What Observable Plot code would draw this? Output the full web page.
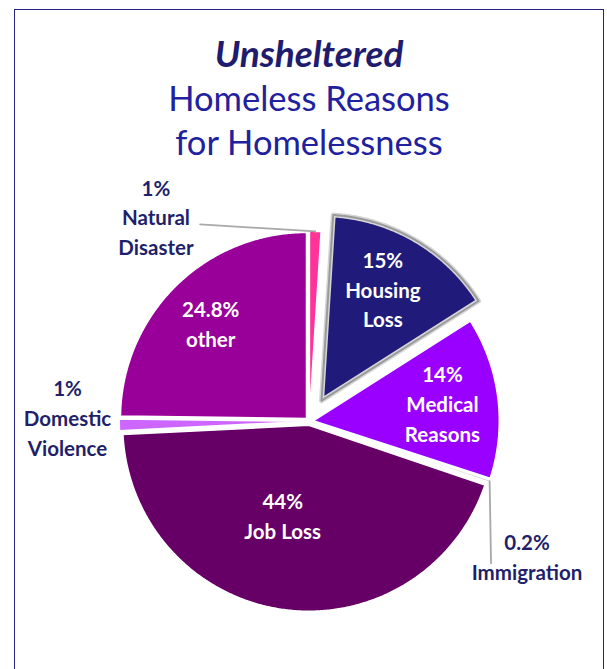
<!DOCTYPE html>
<html><head><meta charset="utf-8">
<script src="https://cdn.jsdelivr.net/npm/d3@7"></script>
<script src="https://cdn.jsdelivr.net/npm/@observablehq/plot@0.6"></script>
<style>
body{margin:0;width:607px;height:669px;overflow:hidden;background:#fff;font-family:Lato,sans-serif;position:relative}
#frame{position:absolute;left:14px;top:9px;width:590px;height:700px;border:1.7px solid #24247E;box-sizing:border-box}
#title{position:relative;height:170px;width:618px}
#title div{position:absolute;left:0;width:618px;text-align:center;white-space:nowrap}
#chart{position:relative}
</style></head><body>
<div id="frame"></div>
<div id="title">
<div style="top:34px;font-size:37px;line-height:37px;font-weight:700;font-style:italic;color:#1F1B6E">Unsheltered</div>
<div style="top:81px;font-size:34.5px;line-height:34.5px;color:#2121A0">Homeless Reasons</div>
<div style="top:125px;font-size:34.5px;line-height:34.5px;color:#2121A0">for Homelessness</div>
</div>
<div id="chart"></div>
<script>
const categories = ["Natural Disaster", "Housing Loss", "Medical Reasons", "Immigration", "Job Loss", "Domestic Violence", "other"];
const values = [1, 15, 14, 0.2, 44, 1, 24.8];
const sliceLabels = ["1%\nNatural\nDisaster", "15%\nHousing\nLoss", "14%\nMedical\nReasons", "0.2%\nImmigration", "44%\nJob Loss", "1%\nDomestic\nViolence", "24.8%\nother"];
const colors = ["#FF3399", "#201B7A", "#9900FF", "#D0D0D0", "#660066", "#CC66FF", "#990099"];

// layout (pixels / polar placement)
const W = 607, H = 499, R = 186, CX = 308.8, CY = 250.8;
const explodePx = {"Housing Loss": 24};
const insideLayout = {
  "Housing Loss": {r: 0.68, shift: -1.6},
  "Medical Reasons": {r: 0.70, shift: 0},
  "Job Loss": {r: 0.51, shift: 8},
  "other": {r: 0.72, shift: -1}
};
const outsideLayout = {
  "Natural Disaster": {r: 1.37, angle: 323, lead: {r: 1.21, angle: 331}},
  "Domestic Violence": {r: 1.30, angle: 270.7},
  "Immigration": {r: 1.38, angle: 122, lead: {r: 1.24, angle: 128}}
};

const rad = Math.PI / 180;
const polar = (r, deg) => [r * Math.sin(deg * rad), r * Math.cos(deg * rad)];
const total = d3.sum(values);
let acc = 0;
const slices = categories.map((c, i) => {
  const a0 = acc / total * 360; acc += values[i]; const a1 = acc / total * 360;
  const mid = (a0 + a1) / 2;
  const off = (explodePx[c] ?? 4) / R;
  const [ox, oy] = polar(off, mid);
  return {cat: c, label: sliceLabels[i], a0, a1, mid, ox, oy};
});

const pts = [];
for (const s of slices) {
  pts.push({cat: s.cat, x: s.ox, y: s.oy});
  const n = Math.max(2, Math.ceil((s.a1 - s.a0) / 0.5));
  for (let k = 0; k <= n; k++) {
    const a = s.a0 + (s.a1 - s.a0) * k / n;
    const [px, py] = polar(1, a);
    pts.push({cat: s.cat, x: s.ox + px, y: s.oy + py});
  }
}
const isH = d => d.cat === "Housing Loss";

const inLabels = slices.filter(s => insideLayout[s.cat]).map(s => {
  const L = insideLayout[s.cat];
  const [px, py] = polar(L.r, s.mid + L.shift);
  return {label: s.label, x: s.ox + px, y: s.oy + py};
});
const outLabels = slices.filter(s => outsideLayout[s.cat]).map(s => {
  const L = outsideLayout[s.cat];
  const [px, py] = polar(L.r, L.angle);
  return {label: s.label, x: px, y: py};
});
const leaders = [];
for (const s of slices) {
  const L = outsideLayout[s.cat];
  if (!L || !L.lead) continue;
  const [sx, sy] = polar(1, s.mid);
  const [ex, ey] = polar(L.lead.r, L.lead.angle);
  leaders.push({cat: s.cat, x: s.ox + sx, y: s.oy + sy});
  leaders.push({cat: s.cat, x: ex, y: ey});
}

const chart = Plot.plot({
  width: W, height: H, margin: 0,
  style: {background: "transparent", overflow: "visible", fontFamily: "Lato"},
  x: {domain: [-CX / R, (W - CX) / R], axis: null},
  y: {domain: [-(H - CY) / R, CY / R], axis: null},
  color: {domain: categories, range: colors},
  marks: [
    Plot.line(pts.filter(d => !isH(d)), {x: "x", y: "y", z: "cat", fill: "cat", stroke: "white", strokeWidth: 1.5, curve: "linear-closed"}),
    Plot.line(pts.filter(isH), {x: "x", y: "y", z: "cat", fill: "cat", stroke: "#D6D6D6", strokeWidth: 5, strokeLinejoin: "round", curve: "linear-closed"}),
    Plot.line(pts.filter(isH), {x: "x", y: "y", z: "cat", fill: "none", stroke: "#9A9A9A", strokeWidth: 2, strokeLinejoin: "round", curve: "linear-closed"}),
    Plot.line(leaders, {x: "x", y: "y", z: "cat", stroke: "#A8A8A8", strokeWidth: 1.8}),
    Plot.text(inLabels, {x: "x", y: "y", dy: -2, text: "label", fill: "white", fontSize: 20.5, fontWeight: "bold", lineHeight: 1.45, fontFamily: "Lato"}),
    Plot.text(outLabels, {x: "x", y: "y", dy: -2, text: "label", fill: "#1F1F6B", fontSize: 20.5, fontWeight: "bold", lineHeight: 1.45, fontFamily: "Lato"})
  ]
});
document.getElementById("chart").appendChild(chart);
</script>
</body></html>
